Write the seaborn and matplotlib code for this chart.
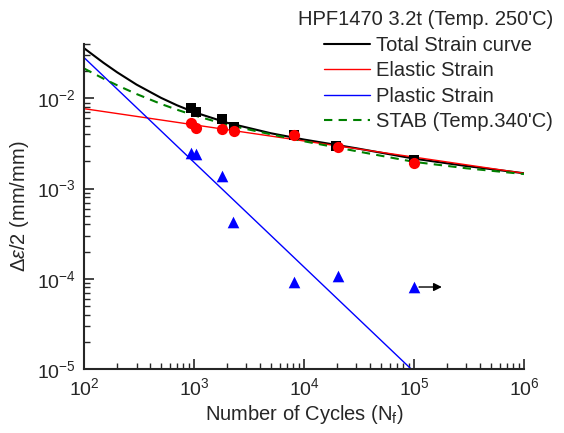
import numpy as np
import pandas as pd
import matplotlib
matplotlib.use('Agg')
import matplotlib.pyplot as plt
import seaborn as sns

# measured points
total_n = [940, 1040, 1800, 2300, 8100, 19500, 100000]
total_amp = [0.0079, 0.0070, 0.0059, 0.0048, 0.0039, 0.00295, 0.00206]
elastic_n = [940, 1040, 1800, 2300, 8100, 20400, 100000]
elastic_amp = [0.0054, 0.0047, 0.00455, 0.0044, 0.0039, 0.0029, 0.0019]
plastic_n = [940, 1040, 1800, 2260, 8100, 20400, 100000]
plastic_amp = [0.00247, 0.00241, 0.00137, 0.000427, 0.000093, 0.000108, 0.000081]

# fitted curves
curve_n = [100, 150, 200, 300, 500, 700, 1000, 2000, 5000, 10000, 30000, 100000, 300000, 1000000]
total_curve = [0.0361, 0.0249, 0.0195, 0.01425, 0.01017, 0.0084, 0.00705, 0.00537, 0.00411,
               0.0035, 0.0028, 0.00215, 0.00178, 0.00148]
stab_curve = [0.0215, 0.0166, 0.0140, 0.0112, 0.0087, 0.0075, 0.0065, 0.0051, 0.0040,
              0.00335, 0.0026, 0.00198, 0.00168, 0.00145]
elastic_line_n = [100, 1000000]
elastic_line = [0.0077, 0.00148]
plastic_line_n = [100, 94000]
plastic_line = [0.0284, 0.00001]

# run-out arrow
runout_from = (105000, 0.000081)
runout_to = (190000, 0.000081)

sns.set_style('ticks')
plt.rcParams['font.family'] = ['Liberation Sans', 'DejaVu Sans']
plt.rcParams['mathtext.fontset'] = 'custom'
plt.rcParams['mathtext.rm'] = 'Liberation Sans'
plt.rcParams['mathtext.it'] = 'Liberation Sans:italic'

fig, ax = plt.subplots(figsize=(5.64, 4.33), dpi=100)
fig.subplots_adjust(left=0.149, right=0.929, bottom=0.148, top=0.898)
ax.set_xscale('log')
ax.set_yscale('log')

sns.lineplot(x=curve_n, y=total_curve, ax=ax, color='black', lw=1.5, label='Total Strain curve')
sns.lineplot(x=elastic_line_n, y=elastic_line, ax=ax, color='red', lw=1.0, label='Elastic Strain')
sns.lineplot(x=plastic_line_n, y=plastic_line, ax=ax, color='blue', lw=1.0, label='Plastic Strain')
sns.lineplot(x=curve_n, y=stab_curve, ax=ax, color='green', lw=1.5, label='STAB (Temp.340\'C)',
             linestyle=(0, (4, 3)))

sns.scatterplot(x=total_n, y=total_amp, ax=ax, color='black', marker='s', s=50, edgecolor='black',
                linewidth=0, zorder=5)
sns.scatterplot(x=elastic_n, y=elastic_amp, ax=ax, color='red', marker='o', s=65, edgecolor='red',
                linewidth=0, zorder=6)
sns.scatterplot(x=plastic_n, y=plastic_amp, ax=ax, color='blue', marker='^', s=70, edgecolor='blue',
                linewidth=0, zorder=6)
ax.annotate('', xy=runout_to, xytext=runout_from,
            arrowprops=dict(arrowstyle='-|>', color='black', lw=1.0, mutation_scale=12))

ax.set_xlim(100, 1e6)
ax.set_ylim(1e-5, 0.04)
sns.despine(ax=ax)
ax.spines['left'].set_linewidth(1.5)
ax.spines['bottom'].set_linewidth(1.5)
ax.tick_params(which='major', direction='in', length=7, width=1.2, labelsize=14, pad=6)
ax.tick_params(which='minor', direction='in', length=4, width=1.0)
ax.set_xlabel('Number of Cycles (N$_\\mathrm{f}$)', fontsize=14.5, labelpad=3)
ax.set_ylabel('$\\mathit{Δε}$/2 (mm/mm)', fontsize=14.5, labelpad=4)

ax.get_legend().remove()
h, l = ax.get_legend_handles_labels()
fig.legend(h[:4], l[:4], title="HPF1470 3.2t (Temp. 250'C)", loc='upper right',
           bbox_to_anchor=(0.995, 0.995), frameon=False, fontsize=14.5, title_fontsize=14.5,
           handlelength=2.3, handletextpad=0.3, labelspacing=0.32, borderaxespad=0,
           alignment='right')

fig.savefig('out.png', dpi=100)
